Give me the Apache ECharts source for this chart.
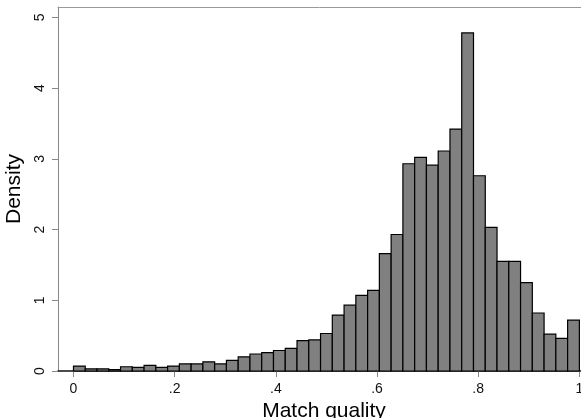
<!DOCTYPE html>
<html>
<head>
<meta charset="utf-8">
<script src="https://cdn.jsdelivr.net/npm/echarts@6/dist/echarts.min.js"></script>
<style>html,body{margin:0;padding:0;background:#fff;}#c{width:581px;height:418px;}</style>
</head>
<body>
<div id="c"></div>
<script>
// Histogram of match quality: 43 equal-width bins on [0, 1]
var binStart = 0;
var binEnd = 1;
var density = [0.07, 0.03, 0.03, 0.02, 0.06, 0.05, 0.08, 0.05, 0.07, 0.10,
               0.10, 0.13, 0.10, 0.15, 0.20, 0.24, 0.26, 0.29, 0.32, 0.43,
               0.44, 0.53, 0.79, 0.93, 1.07, 1.14, 1.66, 1.93, 2.93, 3.02,
               2.91, 3.11, 3.42, 4.78, 2.76, 2.03, 1.55, 1.55, 1.25, 0.82,
               0.52, 0.46, 0.72];
var xTicks = [0, 0.2, 0.4, 0.6, 0.8, 1];
var yTicks = [0, 1, 2, 3, 4, 5];
var xTitle = 'Match quality';
var yTitle = 'Density';

var nBins = density.length;
var binW = (binEnd - binStart) / nBins;
var bars = density.map(function (d, i) {
  return [binStart + i * binW, binStart + (i + 1) * binW, d];
});

function fmt(v) {
  var s = String(Math.round(v * 10) / 10);
  return s.replace(/^0\./, '.');
}

var FONT = '"Liberation Sans", Arial, sans-serif';
var chart = echarts.init(document.getElementById('c'), null, {renderer: 'canvas'});
chart.setOption({
  backgroundColor: '#ffffff',
  animation: false,
  grid: {left: 58, right: 0, top: 7, bottom: 47, containLabel: false, outerBoundsMode: 'none'},
  xAxis: [{
    type: 'value',
    position: 'bottom',
    min: -0.0306,
    max: 1.0032,
    name: xTitle,
    nameLocation: 'middle',
    nameGap: 12,
    nameTextStyle: {fontFamily: FONT, fontSize: 21, color: '#000', padding: [0, 0, 0, 9]},
    axisLine: {show: true, onZero: false, lineStyle: {color: '#111', width: 1.5}},
    axisTick: {show: true, length: 6, customValues: xTicks, lineStyle: {color: '#888', width: 1}},
    axisLabel: {show: true, customValues: xTicks, margin: 11, fontFamily: FONT, fontSize: 14, color: '#111',
      formatter: function (v) { return fmt(v); }},
    splitLine: {show: false}
  }, {
    type: 'value',
    position: 'top',
    min: -0.0306,
    max: 1.0032,
    axisLine: {show: true, onZero: false, lineStyle: {color: '#999', width: 1}},
    axisTick: {show: false},
    axisLabel: {show: false},
    splitLine: {show: false}
  }],
  yAxis: {
    type: 'value',
    min: 0,
    max: 5.146,
    name: yTitle,
    nameLocation: 'middle',
    nameGap: 24,
    nameTextStyle: {fontFamily: FONT, fontSize: 21, color: '#000'},
    axisLine: {show: true, onZero: false, lineStyle: {color: '#888', width: 1}},
    axisTick: {show: true, length: 6, customValues: yTicks, lineStyle: {color: '#888', width: 1}},
    axisLabel: {show: true, customValues: yTicks, rotate: 90, margin: 11, fontFamily: FONT, fontSize: 14, color: '#111',
      formatter: function (v) { return String(v); }},
    splitLine: {show: false}
  },
  series: [{
    type: 'custom',
    xAxisIndex: 0,
    yAxisIndex: 0,
    data: bars,
    encode: {x: [0, 1], y: 2},
    renderItem: function (params, api) {
      var p0 = api.coord([api.value(0), api.value(2)]);
      var p1 = api.coord([api.value(1), 0]);
      return {
        type: 'rect',
        shape: {x: p0[0], y: p0[1], width: p1[0] - p0[0], height: p1[1] - p0[1]},
        style: {fill: '#808080', stroke: '#000', lineWidth: 1.2}
      };
    }
  }]
});
</script>
</body>
</html>
